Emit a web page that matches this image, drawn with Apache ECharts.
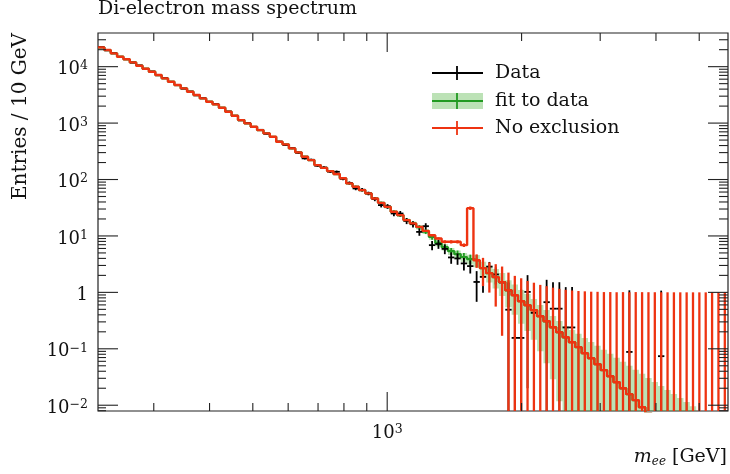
<!DOCTYPE html>
<html><head><meta charset="utf-8">
<script src="https://cdn.jsdelivr.net/npm/echarts@6/dist/echarts.min.js"></script>
<style>html,body{margin:0;padding:0;background:#fff}#c{width:730px;height:474px}</style>
</head><body><div id="c"></div>
<script>
// ---------- data ----------
const binLo = 225, binHi = 5800, nBins = 99;   // log-uniform mass bins [GeV]

const redVals = [22000,19700,17200,15000,13500,11900,10400,9180,8130,7100,
6210,5400,4720,4120,3590,3140,2740,2390,2150,1870,
1590,1350,1130,988,860,751,656,572,466,419,
356,303,253,221,180,161,141,125,105,85.3,
74.3,64.9,56.7,46.2,38.6,32.8,26.8,23.4,19.1,16.7,
14.5,12.3,10.3,9.03,7.87,7.87,7.87,6.87,31.1,3.72,
2.69,2.19,1.86,1.52,1.09,0.891,0.698,0.593,0.483,0.378,
0.308,0.241,0.197,0.160,0.131,0.107,0.0835,0.0681,0.0533,0.0418,
0.0327,0.0256,0.0200,0.0157,0.0123,0.00923,0.0072,0.0056,0.0044,0.0034,
0.0027,0.0021,0.0016,0.0013,0.0010,0.0008,0.0006,0.0005,0.0004];

const redErr = [440,390,340,300,270,240,210,185,165,140,
125,110,95,82,72,63,55,48,43,37,
32,27,23,20,17,15,13,11.5,9.5,8.5,
7.1,6.1,5.1,4.4,3.6,3.2,2.9,2.6,2.2,1.8,
1.6,1.4,1.25,1.05,0.9,0.8,0.68,0.62,0.54,0.5,
0.48,0.45,0.42,0.45,0.5,0.52,0.52,0.5,2.2,1.0,
1.4,1.2,1.3,1.35,1.15,1.07,1.08,1.0,1.0,0.98,
0.98,0.97,0.96,0.95,0.95,0.95,0.96,0.96,0.97,0.97,
0.98,0.98,0.99,0.99,1.0,1.0,1.0,1.0,1.0,1.0,
1.0,1.0,1.0,1.0,1.0,1.0,1.0,1.0,1.0];

const fitVals = [22000,19700,17200,15000,13500,11900,10400,9180,8130,7100,
6210,5400,4720,4120,3590,3140,2740,2390,2150,1870,
1590,1350,1130,988,860,751,656,572,466,419,
356,303,253,221,180,161,141,125,105,85.3,
74.3,64.9,56.7,46.2,38.6,32.8,26.8,23.4,19.1,16.7,
14.3,12.0,9.6,7.45,6.33,5.37,4.75,4.21,3.88,3.65,
2.69,2.19,1.86,1.52,1.09,0.891,0.698,0.593,0.483,0.378,
0.308,0.241,0.197,0.160,0.131,0.107,0.0835,0.0681,0.0533,0.0418,
0.0327,0.0256,0.0200,0.0157,0.0123,0.00923,0.0072,0.0056,0.0044,0.0034,
0.0027,0.0021,0.0016,0.0013,0.0010,0.0008,0.0006,0.0005,0.0004];

const bandRelUp = [0.02,0.02,0.02,0.02,0.02,0.02,0.02,0.02,0.02,0.02,
0.02,0.02,0.02,0.02,0.02,0.02,0.02,0.02,0.02,0.02,
0.02,0.02,0.02,0.02,0.02,0.02,0.02,0.02,0.02,0.02,
0.03,0.03,0.03,0.03,0.03,0.03,0.03,0.03,0.03,0.03,
0.05,0.05,0.05,0.05,0.05,0.07,0.07,0.07,0.07,0.08,
0.09,0.1,0.11,0.12,0.13,0.14,0.16,0.18,0.2,0.26,
0.3,0.35,0.4,0.45,0.5,0.55,0.58,0.58,0.58,0.58,
0.58,0.58,0.58,0.59,0.65,0.72,0.87,0.94,1.12,1.29,
1.49,1.70,1.94,2.18,2.45,2.9,3.2,3.6,4.0,4.5,
4.85,5.4,6.1,6.4,6.5,6.5,6.5,6.5,6.5];

const bandRelDn = [0.02,0.02,0.02,0.02,0.02,0.02,0.02,0.02,0.02,0.02,
0.02,0.02,0.02,0.02,0.02,0.02,0.02,0.02,0.02,0.02,
0.02,0.02,0.02,0.02,0.02,0.02,0.02,0.02,0.02,0.02,
0.03,0.03,0.03,0.03,0.03,0.03,0.03,0.03,0.03,0.03,
0.05,0.05,0.05,0.05,0.05,0.07,0.07,0.07,0.07,0.08,
0.09,0.1,0.11,0.12,0.13,0.14,0.16,0.18,0.2,0.24,
0.28,0.32,0.37,0.43,0.5,0.55,0.6,0.65,0.7,0.76,
0.82,0.88,0.94,1,1,1,1,1,1,1,
1,1,1,1,1,1,1,1,1,1,
1,1,1,1,1,1,1,1,1];

const dataVals = [22100,19500,17300,14900,13600,11800,10500,9100,8200,7050,
6250,5350,4750,4080,3620,3110,2760,2370,2170,1850,
1600,1340,1120,995,850,760,648,565,470,410,
360,298,237,224,176,163,138,137,103,87,
69.5,66,56.7,45,35.2,33.5,25.0,25.0,18.5,16.2,
11.8,14.9,6.87,7.2,5.9,4.16,3.99,3.26,2.92,1.53,
1.88,2.86,2.08,1.50,0.493,0.156,0.156,1.02,0.434,null,
0.67,0.514,0.514,0.239,0.239,null,null,null,null,null,
null,null,null,0.088,null,null,null,null,0.074,null,
null,null,null,null,null,null,null,null,null];

const dataErr = [170,160,150,140,130,118,112,104,98,90,
77,72,66,61,57,50,47,43,40,36,
33,30,27,25,22,21,19,17,15,14,
13.3,12,10.5,10,8.5,8.2,7.4,7.2,6.2,5.5,
4.9,4.6,4.2,3.7,3.2,3.2,2.7,2.7,2.3,2.1,
1.73,1.91,1.28,1.29,1.15,0.95,0.91,0.81,0.76,0.85,
0.9,0.6,0.7,0.8,1.0,1.0,1.0,1.0,1.0,0,
1.0,1.0,1.0,1.0,1.0,0,0,0,0,0,
0,0,0,1.0,0,0,0,0,1.0,0,
0,0,0,0,0,0,0,0,0];

const xMajorTicks = [1000];
const xMajorLabels = [['10','3']];
const xMinorTicks = [300,400,500,600,700,800,900,2000,3000,4000,5000];
const yMajorTicks = [0.01,0.1,1,10,100,1000,10000];
const yMajorLabels = [['10','\u22122'],['10','\u22121'],['1',''],['10','1'],['10','2'],['10','3'],['10','4']];

const titleText = 'Di-electron mass spectrum';
const yTitle = 'Entries / 10 GeV';
const legendNames = ['Data','fit to data','No exclusion'];

// ---------- setup ----------
const X_MIN = binLo, X_MAX = binHi, Y_MIN = 0.0079, Y_MAX = 39500;
const FONT = '"DejaVu Serif", serif';
const RED = '#ee3311', GREEN = '#229a22', BAND = 'rgba(60,170,40,0.34)', AXIS = '#222';
const edges = Array.from({length: nBins + 1}, (_, i) => binLo * Math.pow(binHi / binLo, i / nBins));
const centers = edges.slice(0, -1).map((e, i) => Math.sqrt(e * edges[i + 1]));
const clampY = v => Math.min(Y_MAX, Math.max(Y_MIN, v));
function stepPts(vals) { const p = []; vals.forEach((v, i) => { p.push([edges[i], v], [edges[i + 1], v]); }); return p; }
const yMinorTicks = [];
for (let d = -3; d <= 4; d++) for (let m = 2; m <= 9; m++) { const v = m * Math.pow(10, d); if (v > Y_MIN && v < Y_MAX) yMinorTicks.push(v); }

const chart = echarts.init(document.getElementById('c'), null, {renderer: 'canvas'});
const axisCommon = {axisLine: {show: false}, axisTick: {show: false}, axisLabel: {show: false}, splitLine: {show: false}};
const richLab = {b: {fontSize: 18, fontFamily: FONT, fill: '#111', lineHeight: 20}, e: {fontSize: 12.5, fontFamily: FONT, fill: '#111', verticalAlign: 'top', lineHeight: 20}};

const option = {
  animation: false,
  backgroundColor: '#fff',
  grid: {left: 98, right: 2, top: 33, bottom: 63, show: true, borderColor: AXIS, borderWidth: 1.2, backgroundColor: 'transparent'},
  xAxis: Object.assign({type: 'log', logBase: 10, min: X_MIN, max: X_MAX}, axisCommon),
  yAxis: Object.assign({type: 'log', logBase: 10, min: Y_MIN, max: Y_MAX}, axisCommon),
  series: [
    { // fit uncertainty band
      type: 'custom', coordinateSystem: 'cartesian2d', silent: true, z: 1, data: [[X_MIN, Y_MIN]],
      renderItem(params, api) {
        const up = [], dn = [];
        for (let i = 0; i < nBins; i++) {
          const hi = clampY(fitVals[i] * (1 + bandRelUp[i])), lo = clampY(fitVals[i] * (1 - bandRelDn[i]));
          up.push(api.coord([edges[i], hi]), api.coord([edges[i + 1], hi]));
          dn.push(api.coord([edges[i], lo]), api.coord([edges[i + 1], lo]));
        }
        return {type: 'polygon', shape: {points: up.concat(dn.reverse())}, style: {fill: BAND}};
      }
    },
    { // fit error bars
      type: 'custom', coordinateSystem: 'cartesian2d', silent: true, z: 2,
      data: fitVals.map((v, i) => [centers[i], v, i]),
      renderItem(params, api) {
        const i = api.value(2), v = fitVals[i];
        const hi = v * (1 + bandRelUp[i]);
        if (hi <= Y_MIN) return null;
        const t = api.coord([centers[i], clampY(hi)]), b = api.coord([centers[i], clampY(v * (1 - bandRelDn[i]))]);
        return {type: 'line', shape: {x1: t[0], y1: t[1], x2: b[0], y2: b[1]}, style: {stroke: GREEN, lineWidth: 1.8}};
      }
    },
    { type: 'line', name: 'fit', data: stepPts(fitVals), showSymbol: false, symbol: 'none', clip: true, z: 2,
      lineStyle: {color: GREEN, width: 2.3}, itemStyle: {color: GREEN} },
    { // data crosses
      type: 'custom', coordinateSystem: 'cartesian2d', silent: true, z: 3,
      data: dataVals.map((v, i) => v == null ? null : [centers[i], v, i]).filter(Boolean),
      renderItem(params, api) {
        const i = api.value(2), v = dataVals[i], e = dataErr[i];
        const l = api.coord([edges[i], v]), r = api.coord([edges[i + 1], v]);
        const t = api.coord([centers[i], clampY(v + e)]), b = api.coord([centers[i], v - e > 0 ? clampY(v - e) : Y_MIN]);
        const st = {stroke: '#000', lineWidth: 1.8};
        return {type: 'group', children: [
          {type: 'line', shape: {x1: l[0], y1: l[1], x2: r[0], y2: r[1]}, style: st},
          {type: 'line', shape: {x1: t[0], y1: t[1], x2: b[0], y2: b[1]}, style: st}
        ]};
      }
    },
    { type: 'line', name: 'red', data: stepPts(redVals), showSymbol: false, symbol: 'none', clip: true, z: 4,
      lineStyle: {color: RED, width: 2.4}, itemStyle: {color: RED} },
    { // red error bars
      type: 'custom', coordinateSystem: 'cartesian2d', silent: true, z: 5,
      data: redVals.map((v, i) => [centers[i], v, i]),
      renderItem(params, api) {
        const i = api.value(2), v = redVals[i], e = redErr[i];
        if (v + e <= Y_MIN) return null;
        const t = api.coord([centers[i], clampY(v + e)]), b = api.coord([centers[i], v - e > 0 ? clampY(v - e) : Y_MIN]);
        return {type: 'line', shape: {x1: t[0], y1: t[1], x2: b[0], y2: b[1]}, style: {stroke: RED, lineWidth: 2.3}};
      }
    },
    { // ticks and tick labels
      type: 'custom', coordinateSystem: 'cartesian2d', silent: true, clip: false, z: 20, data: [[X_MIN, Y_MIN]],
      renderItem(params, api) {
        const ch = [];
        const bl = api.coord([X_MIN, Y_MIN]), tr = api.coord([X_MAX, Y_MAX]);
        const tick = (x1, y1, x2, y2) => ch.push({type: 'line', shape: {x1, y1, x2, y2}, style: {stroke: AXIS, lineWidth: 1.1}});
        xMajorTicks.forEach((v, k) => {
          const p = api.coord([v, Y_MIN]);
          tick(p[0], bl[1], p[0], bl[1] - 19); tick(p[0], tr[1], p[0], tr[1] + 19);
          const lab = xMajorLabels[k];
          ch.push({type: 'text', x: p[0], y: bl[1] + 22, style: {
            text: '{b|' + lab[0] + '}{e|' + lab[1] + '}', align: 'center', verticalAlign: 'middle', rich: richLab}});
        });
        xMinorTicks.forEach(v => {
          const p = api.coord([v, Y_MIN]);
          tick(p[0], bl[1], p[0], bl[1] - 8); tick(p[0], tr[1], p[0], tr[1] + 8);
        });
        yMajorTicks.forEach((v, k) => {
          const p = api.coord([X_MIN, v]);
          tick(bl[0], p[1], bl[0] + 20, p[1]); tick(tr[0], p[1], tr[0] - 20, p[1]);
          const lab = yMajorLabels[k];
          const txt = lab[1] ? '{b|' + lab[0] + '}{e|' + lab[1] + '}' : '{b|' + lab[0] + '}';
          ch.push({type: 'text', x: bl[0] - 10, y: p[1] + 3, style: {text: txt, align: 'right', verticalAlign: 'middle', rich: richLab}});
        });
        yMinorTicks.forEach(v => {
          const p = api.coord([X_MIN, v]);
          tick(bl[0], p[1], bl[0] + 8, p[1]); tick(tr[0], p[1], tr[0] - 9, p[1]);
        });
        return {type: 'group', children: ch};
      }
    }
  ],
  graphic: [
    {type: 'text', left: 98, top: 0, style: {text: titleText, font: '19px ' + FONT, fill: '#111'}},
    {type: 'text', x: 21, y: 33, rotation: Math.PI / 2, style: {text: yTitle, font: '20px ' + FONT, fill: '#111', align: 'right', verticalAlign: 'middle'}},
    {type: 'text', x: 727, y: 457, style: {
      text: '{m|m}{s|ee}{t| [GeV]}', align: 'right', verticalAlign: 'middle',
      rich: {m: {fontSize: 19, fontFamily: FONT, fontStyle: 'italic', fill: '#111', lineHeight: 22},
             s: {fontSize: 12, fontFamily: FONT, fontStyle: 'italic', fill: '#111', verticalAlign: 'bottom', lineHeight: 22},
             t: {fontSize: 19, fontFamily: FONT, fill: '#111', lineHeight: 22}}}},
    // legend
    {type: 'line', shape: {x1: 432, y1: 73, x2: 483, y2: 73}, style: {stroke: '#000', lineWidth: 1.8}},
    {type: 'line', shape: {x1: 457, y1: 66, x2: 457, y2: 80}, style: {stroke: '#000', lineWidth: 1.8}},
    {type: 'rect', shape: {x: 432, y: 93, width: 51, height: 16}, style: {fill: BAND}},
    {type: 'line', shape: {x1: 432, y1: 101, x2: 483, y2: 101}, style: {stroke: GREEN, lineWidth: 1.8}},
    {type: 'line', shape: {x1: 457, y1: 93, x2: 457, y2: 109}, style: {stroke: GREEN, lineWidth: 1.8}},
    {type: 'line', shape: {x1: 432, y1: 128, x2: 483, y2: 128}, style: {stroke: RED, lineWidth: 1.8}},
    {type: 'line', shape: {x1: 457, y1: 121, x2: 457, y2: 135}, style: {stroke: RED, lineWidth: 1.8}},
    {type: 'text', x: 495, y: 73, style: {text: legendNames[0], font: '19px ' + FONT, fill: '#111', verticalAlign: 'middle'}},
    {type: 'text', x: 495, y: 101, style: {text: legendNames[1], font: '19px ' + FONT, fill: '#111', verticalAlign: 'middle'}},
    {type: 'text', x: 495, y: 128, style: {text: legendNames[2], font: '19px ' + FONT, fill: '#111', verticalAlign: 'middle'}}
  ]
};
chart.setOption(option);
</script></body></html>
